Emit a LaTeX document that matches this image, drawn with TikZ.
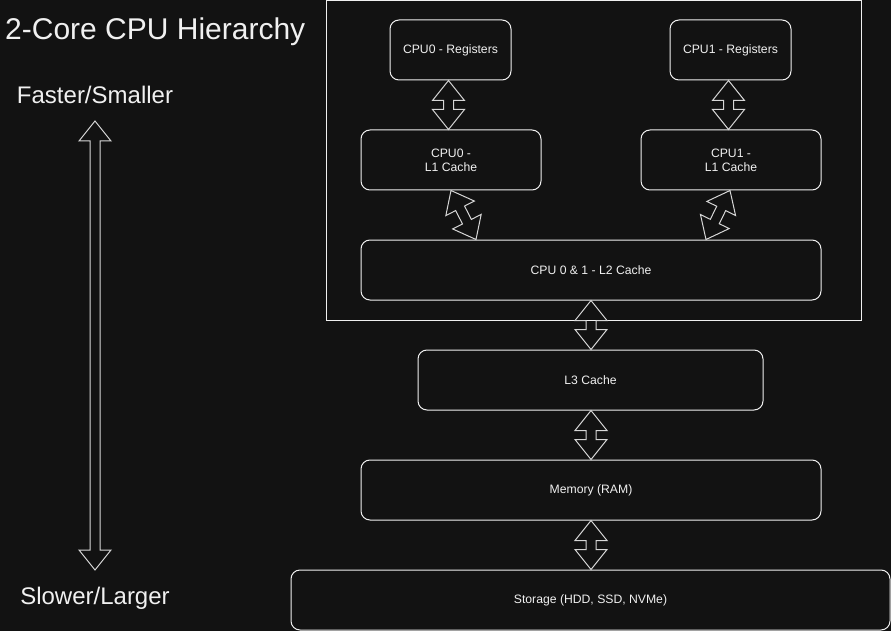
\documentclass[tikz,border=0pt]{standalone}
\usepackage{fontspec}
\setmainfont{Liberation Sans}
\usetikzlibrary{calc}
\definecolor{bgc}{RGB}{18,18,18}
\definecolor{linec}{RGB}{240,240,240}
\definecolor{arrc}{RGB}{215,215,215}
\definecolor{txtc}{RGB}{240,240,240}
\tikzset{
  box/.style={draw=linec, line width=1pt, rounded corners=9pt, text=txtc, align=center,
    font=\fontsize{12.2}{14}\selectfont, inner sep=0pt},
  frame/.style={draw=linec, line width=1pt},
  blk/.style={draw=arrc, line width=1pt, line join=miter},
  lbl/.style={text=txtc, inner sep=0pt}
}
\newcommand\blkarrow[2]{%
  \coordinate (ha) at ($(#1)!20pt!(#2)$);
  \coordinate (hb) at ($(#2)!20pt!(#1)$);
  \draw[blk] (#1) -- ($(ha)!16pt!90:(#2)$) -- ($(ha)!5pt!90:(#2)$)
    -- ($(hb)!5pt!-90:(#1)$) -- ($(hb)!16pt!-90:(#1)$) -- (#2)
    -- ($(hb)!16pt!90:(#1)$) -- ($(hb)!5pt!90:(#1)$)
    -- ($(ha)!5pt!-90:(#2)$) -- ($(ha)!16pt!-90:(#2)$) -- cycle;}
\begin{document}
\begin{tikzpicture}[x=1pt,y=-1pt]
\fill[bgc] (0,0) rectangle (891,631);
\useasboundingbox (0,0) rectangle (891,631);

% title and side labels
\node[lbl, anchor=base west, font=\fontsize{30}{35}\selectfont] (title) at (5,40) {2-Core CPU Hierarchy};
\node[lbl, anchor=base, font=\fontsize{24}{29}\selectfont] (fast) at (95,104) {Faster/Smaller};
\node[lbl, anchor=base, font=\fontsize{24}{29}\selectfont] (slow) at (95,604) {Slower/Larger};
\coordinate (vtop) at (95,121);
\coordinate (vbot) at (95,570);
\blkarrow{vtop}{vbot}

% CPU frame
\node[frame, minimum width=535pt, minimum height=319pt, inner sep=0pt] (cpu) at (593.5,160.5) {};

% boxes
\node[box, minimum width=121pt, minimum height=60pt] (r0) at (450.5,50) {CPU0 - Registers};
\node[box, minimum width=121pt, minimum height=60pt] (r1) at (730.5,50) {CPU1 - Registers};
\node[box, minimum width=180pt, minimum height=60pt] (l10) at (451,160) {CPU0 -\\L1 Cache};
\node[box, minimum width=180pt, minimum height=60pt] (l11) at (731,160) {CPU1 -\\L1 Cache};
\node[box, minimum width=460pt, minimum height=60pt] (l2) at (591,270) {CPU 0 \& 1 - L2 Cache};
\node[box, minimum width=345pt, minimum height=60pt] (l3) at (590.5,380) {L3 Cache};
\node[box, minimum width=460pt, minimum height=60pt] (mem) at (591,490) {Memory (RAM)};
\node[box, minimum width=599pt, minimum height=60pt] (sto) at (590.5,600) {Storage (HDD, SSD, NVMe)};

% connector end points
\coordinate (a1s) at ($(r0.south)+(-2,0)$);
\coordinate (a1e) at (a1s |- l10.north);
\coordinate (a2s) at ($(r1.south)+(-2,0)$);
\coordinate (a2e) at (a2s |- l11.north);
\coordinate (a3s) at (l10.south);
\coordinate (a3e) at ($(l2.north)+(-115,0)$);
\coordinate (a4s) at ($(l11.south)+(-1,0)$);
\coordinate (a4e) at ($(l2.north)+(115,0)$);
\coordinate (a5s) at (l2.south);
\coordinate (a5e) at (l2.south |- l3.north);
\coordinate (a6s) at (l2.south |- l3.south);
\coordinate (a6e) at (l2.south |- mem.north);
\coordinate (a7s) at (mem.south);
\coordinate (a7e) at (mem.south |- sto.north);

\blkarrow{a1s}{a1e}
\blkarrow{a2s}{a2e}
\blkarrow{a3s}{a3e}
\blkarrow{a4s}{a4e}
\blkarrow{a5s}{a5e}
\blkarrow{a6s}{a6e}
\blkarrow{a7s}{a7e}
\end{tikzpicture}
\end{document}
